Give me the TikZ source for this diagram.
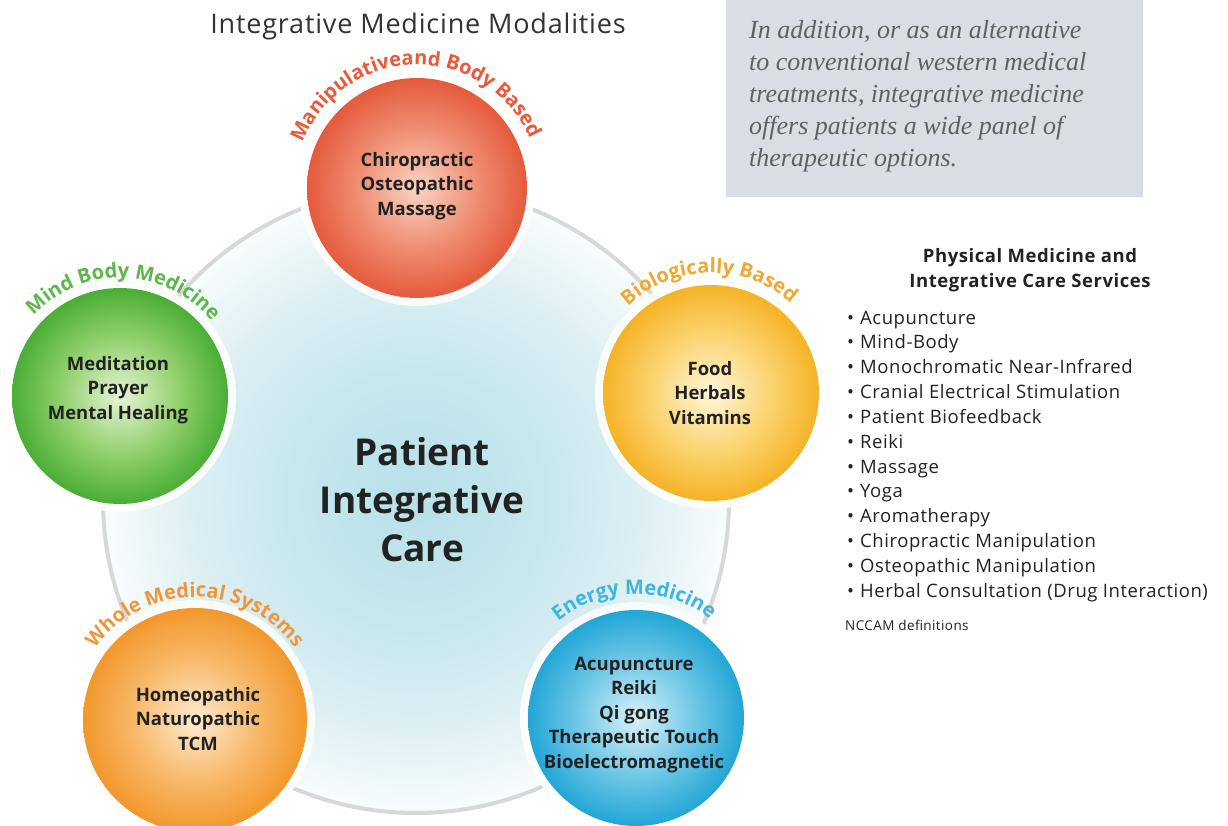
\documentclass[tikz,border=0pt]{standalone}
\usepackage{fontspec}
\setmainfont{Open Sans}
\newfontfamily\serifit{Liberation Serif}
\newfontfamily\titlefont[LetterSpace=3]{Open Sans}
\newfontfamily\listfont[LetterSpace=3]{Open Sans}
\usetikzlibrary{decorations.text}

\definecolor{txtdark}{HTML}{222222}
\definecolor{titlegray}{HTML}{333333}
\definecolor{boxgray}{HTML}{D8DEE3}
\definecolor{boxtext}{HTML}{606060}
\definecolor{ringgray}{HTML}{D8D8D8}
\definecolor{lblred}{HTML}{E85A3A}
\definecolor{lblgreen}{HTML}{5DB74A}
\definecolor{lblyellow}{HTML}{F0A830}
\definecolor{lblorange}{HTML}{F0963A}
\definecolor{lblblue}{HTML}{3FB6DC}

\definecolor{glowA}{HTML}{B8E0E9}
\definecolor{glowB}{HTML}{C6E7EE}
\definecolor{glowC}{HTML}{DCEFF3}
\definecolor{glowD}{HTML}{F8FCFD}
\pgfdeclareradialshading{glow}{\pgfpoint{0bp}{0bp}}{color(0bp)=(glowA); color(10bp)=(glowB); color(18bp)=(glowC); color(25bp)=(glowD); color(50bp)=(glowD)}

\definecolor{redA}{HTML}{F9D4C3}\definecolor{redB}{HTML}{EF8C70}\definecolor{redC}{HTML}{E55A3C}
\pgfdeclareradialshading{ballred}{\pgfpoint{0bp}{0bp}}{color(0bp)=(redA); color(14bp)=(redB); color(25bp)=(redC); color(50bp)=(redC)}
\definecolor{grnA}{HTML}{E6F4D6}\definecolor{grnB}{HTML}{8FCF6A}\definecolor{grnC}{HTML}{4AAE35}
\pgfdeclareradialshading{ballgreen}{\pgfpoint{0bp}{0bp}}{color(0bp)=(grnA); color(14bp)=(grnB); color(25bp)=(grnC); color(50bp)=(grnC)}
\definecolor{yelA}{HTML}{FFF6DA}\definecolor{yelB}{HTML}{FBD36E}\definecolor{yelC}{HTML}{F5B326}
\pgfdeclareradialshading{ballyellow}{\pgfpoint{0bp}{0bp}}{color(0bp)=(yelA); color(14bp)=(yelB); color(25bp)=(yelC); color(50bp)=(yelC)}
\definecolor{orgA}{HTML}{FDEBD2}\definecolor{orgB}{HTML}{F8B868}\definecolor{orgC}{HTML}{F2982C}
\pgfdeclareradialshading{ballorange}{\pgfpoint{0bp}{0bp}}{color(0bp)=(orgA); color(14bp)=(orgB); color(25bp)=(orgC); color(50bp)=(orgC)}
\definecolor{bluA}{HTML}{DAF1F8}\definecolor{bluB}{HTML}{6CC6E6}\definecolor{bluC}{HTML}{22A6D6}
\pgfdeclareradialshading{ballblue}{\pgfpoint{0bp}{0bp}}{color(0bp)=(bluA); color(14bp)=(bluB); color(25bp)=(bluC); color(50bp)=(bluC)}

\newcommand\lblfont{\fontsize{20}{20}\selectfont\bfseries}
\newcommand\arclabel[5]{%
  \path[decorate, decoration={text along path, text align=center, text color=#3, text={|\lblfont|#4}}]
    (#1.center) ++(#5+80:#2) arc[start angle=#5+80, end angle=#5-80, radius=#2];}

\tikzset{
  ballnode/.style={circle, inner sep=0pt, shade, shading=#1},
  halo/.style={circle, inner sep=0pt, fill=white, opacity=0.85},
  balltext/.style={font=\fontsize{18.5}{24.5}\selectfont\bfseries, text=txtdark, align=center, inner sep=0pt},
  listitem/.style={anchor=base west, inner sep=0pt, font=\listfont\fontsize{18.5}{24}\selectfont, text=txtdark},
  boxline/.style={anchor=base west, inner sep=0pt, font=\serifit\itshape\fontsize{26}{32}\selectfont, text=boxtext},
}

\begin{document}
\begin{tikzpicture}[x=1pt,y=1pt]
\useasboundingbox (0,0) rectangle (1228,-826);
\clip (0,0) rectangle (1228,-826);
\fill[white] (0,0) rectangle (1228,-826);

% grey text box
\fill[boxgray] (726,0) rectangle (1143,-197);
\foreach \t [count=\i] in {{In addition, or as an alternative},{to conventional western medical},{treatments, integrative medicine},{offers patients a wide panel of},{therapeutic options.}}
  \node[boxline] (box\i) at (749,{-39-32*(\i-1)}) {\t};

% title
\node[font=\titlefont\fontsize{27}{30}\selectfont, text=titlegray, inner sep=0pt] (title) at (418,-26) {Integrative Medicine Modalities};

% central glow and ring
\node[circle, inner sep=0pt, minimum size=624pt, shade, shading=glow] (glow) at (416,-500) {};
\node[circle, inner sep=0pt, minimum size=626pt, draw=ringgray, line width=4pt] (ring) at (416,-500) {};

% halos
\node[halo, minimum size=236pt] at (417,-188) {};
\node[halo, minimum size=232pt] at (120,-396) {};
\node[halo, minimum size=232pt] at (711,-393) {};
\node[halo, minimum size=240pt] at (195,-720) {};
\node[halo, minimum size=232pt] at (636,-718) {};

% balls
\node[ballnode=ballred, minimum size=220pt] (mbb) at (417,-188) {};
\node[ballnode=ballgreen, minimum size=216pt] (mind) at (120,-396) {};
\node[ballnode=ballyellow, minimum size=216pt] (bio) at (711,-393) {};
\node[ballnode=ballorange, minimum size=224pt] (whole) at (195,-720) {};
\node[ballnode=ballblue, minimum size=216pt] (energy) at (636,-718) {};

% arc labels
\arclabel{mbb}{123}{lblred}{Manipulativeand Body Based}{91}
\arclabel{mind}{118}{lblgreen}{Mind Body Medicine}{88}
\arclabel{bio}{120}{lblyellow}{Biologically Based}{91}
\arclabel{whole}{123}{lblorange}{Whole Medical Systems}{90}
\arclabel{energy}{124}{lblblue}{Energy Medicine}{91}

% ball texts
\node[balltext] (mbbt) at (417,-186) {Chiropractic\\Osteopathic\\Massage};
\node[balltext] (mindt) at (118,-390) {Meditation\\Prayer\\Mental Healing};
\node[balltext] (biot) at (710,-393) {Food\\Herbals\\Vitamins};
\node[balltext] (wholet) at (198,-719) {Homeopathic\\Naturopathic\\TCM};
\node[balltext] (energyt) at (634,-715) {Acupuncture\\Reiki\\Qi gong\\Therapeutic Touch\\Bioelectromagnetic};

% centre
\node[font=\fontsize{37}{48}\selectfont\bfseries, text=txtdark, align=center, inner sep=0pt] (centre) at (422,-500) {Patient\\Integrative\\Care};

% right list
\node[font=\listfont\fontsize{18.5}{25}\selectfont\bfseries, text=txtdark, align=center, inner sep=0pt] (listhead) at (1030,-270) {Physical Medicine and\\Integrative Care Services};
\foreach \t [count=\i] in {Acupuncture,Mind-Body,Monochromatic Near-Infrared,Cranial Electrical Stimulation,Patient Biofeedback,Reiki,Massage,Yoga,Aromatherapy,Chiropractic Manipulation,Osteopathic Manipulation,Herbal Consultation (Drug Interaction)}
  \node[listitem] (item\i) at (847,{-324-24.85*(\i-1)}) {\makebox[13pt][l]{•}\t};
\node[anchor=base west, inner sep=0pt, font=\listfont\fontsize{13.5}{16}\selectfont, text=txtdark] (nccam) at (845,-630) {NCCAM definitions};
\end{tikzpicture}
\end{document}
